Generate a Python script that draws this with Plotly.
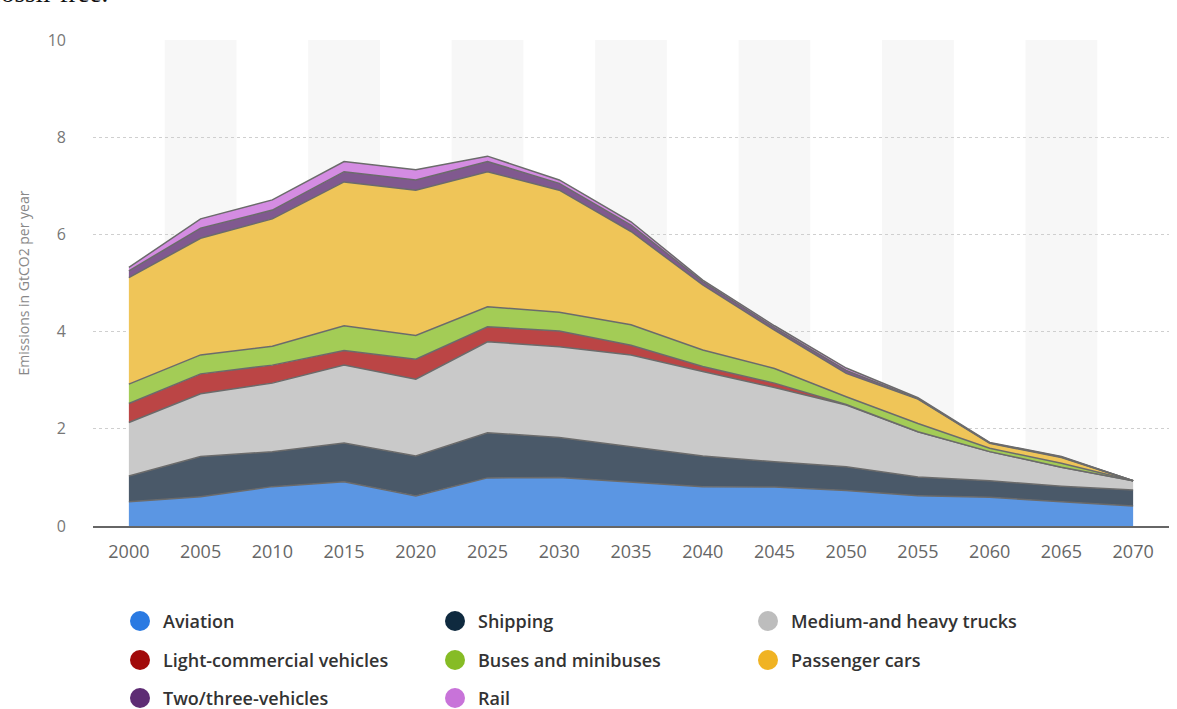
import plotly.graph_objects as go

years = [2000, 2005, 2010, 2015, 2020, 2025, 2030, 2035, 2040, 2045, 2050, 2055, 2060, 2065, 2070]
aviation = [0.50, 0.60, 0.81, 0.91, 0.62, 0.99, 1.00, 0.91, 0.81, 0.80, 0.73, 0.62, 0.59, 0.50, 0.41]
shipping = [0.53, 0.83, 0.72, 0.80, 0.82, 0.93, 0.82, 0.72, 0.63, 0.52, 0.49, 0.39, 0.34, 0.32, 0.33]
trucks = [1.10, 1.29, 1.41, 1.60, 1.58, 1.87, 1.87, 1.89, 1.74, 1.53, 1.27, 0.93, 0.60, 0.39, 0.19]
lcv = [0.39, 0.41, 0.37, 0.30, 0.41, 0.31, 0.32, 0.20, 0.10, 0.09, 0.01, 0.00, 0.00, 0.00, 0.00]
buses = [0.40, 0.39, 0.39, 0.51, 0.49, 0.41, 0.39, 0.42, 0.34, 0.30, 0.16, 0.17, 0.07, 0.08, 0.00]
cars = [2.19, 2.40, 2.62, 2.96, 2.99, 2.78, 2.51, 1.92, 1.34, 0.79, 0.48, 0.50, 0.10, 0.12, 0.00]
twothree = [0.14, 0.21, 0.18, 0.21, 0.21, 0.21, 0.14, 0.13, 0.07, 0.05, 0.06, 0.01, 0.01, 0.01, 0.00]
rail = [0.07, 0.19, 0.21, 0.21, 0.21, 0.11, 0.07, 0.07, 0.03, 0.04, 0.05, 0.02, 0.01, 0.01, 0.00]

names = ["Aviation", "Shipping", "Medium-and heavy trucks", "Light-commercial vehicles",
         "Buses and minibuses", "Passenger cars", "Two/three-vehicles", "Rail"]
values = [aviation, shipping, trucks, lcv, buses, cars, twothree, rail]
fills = ["rgb(91,150,227)", "rgb(74,89,105)", "rgb(201,201,201)", "rgb(187,69,69)",
         "rgb(163,204,86)", "rgb(239,197,88)", "rgb(128,89,143)", "rgb(212,140,226)"]
legend_colors = ["#2a7ae2", "#0f2a3f", "#bdbdbd", "#a10a0a", "#86bc25", "#f0b323", "#5e2c74", "#c873d9"]

fig = go.Figure()
for name, vals, fill in zip(names, values, fills):
    fig.add_trace(go.Scatter(
        x=years, y=vals, name=name, stackgroup="one", mode="lines",
        line=dict(color="#6b6b6b", width=1.5), fillcolor=fill, showlegend=False,
    ))

# alternate bands
for yr in years[1::2]:
    fig.add_shape(type="rect", xref="x", yref="paper", x0=yr - 2.5, x1=yr + 2.5,
                  y0=0, y1=1, fillcolor="#f7f7f7", line_width=0, layer="below")

W = 1076.0
H = 486.0
def px2x(p):
    return (p - 93) / W
def py2y(p):
    return (526 - p) / H

annotations = []
col_x = [140, 455, 768]
row_y = [621, 660, 698]
for i, (name, col) in enumerate(zip(names, legend_colors)):
    cx = col_x[i % 3]
    cy = row_y[i // 3]
    fig.add_shape(type="circle", xref="paper", yref="paper",
                  xsizemode="pixel", ysizemode="pixel",
                  xanchor=px2x(cx), yanchor=py2y(cy),
                  x0=-10, x1=10, y0=-10, y1=10,
                  fillcolor=col, line_width=0)
    annotations.append(dict(text=name, xref="paper", yref="paper",
                            x=px2x(cx + 21), y=py2y(cy), xanchor="left", yanchor="middle",
                            showarrow=False,
                            font=dict(family="Open Sans", size=18, color="#333333", weight=600)))

annotations.append(dict(text="fossil-free.", xref="paper", yref="paper",
                        x=px2x(110), y=py2y(10), xanchor="right", yanchor="bottom",
                        showarrow=False,
                        font=dict(family="Liberation Serif", size=27, color="#111111")))

fig.update_layout(
    width=1177, height=709,
    margin=dict(l=93, r=8, t=40, b=183, autoexpand=False),
    paper_bgcolor="white", plot_bgcolor="white",
    font=dict(family="Open Sans", color="#555555"),
    showlegend=False,
    xaxis=dict(range=[1997.5, 2072.5], tickmode="array", tickvals=years,
               ticktext=[str(y) for y in years], showgrid=False, zeroline=False,
               showline=True, linecolor="#666666", linewidth=2,
               tickfont=dict(size=18, color="#666666"), ticks="", ticklabelstandoff=8),
    yaxis=dict(range=[0, 10], tickvals=[0, 2, 4, 6, 8, 10], showgrid=True,
               gridcolor="#cfcfcf", griddash="dot", gridwidth=1, zeroline=False,
               tickfont=dict(size=16, color="#777777"), ticks="", ticklabelstandoff=26,
               title=dict(text="Emissions in GtCO2 per year",
                          font=dict(size=14, color="#888888"), standoff=14)),
    annotations=annotations,
    hovermode=False,
)

fig.write_html("out.html", config={"displayModeBar": False},
               post_script="document.body.style.margin='0';document.body.style.overflow='hidden';")
